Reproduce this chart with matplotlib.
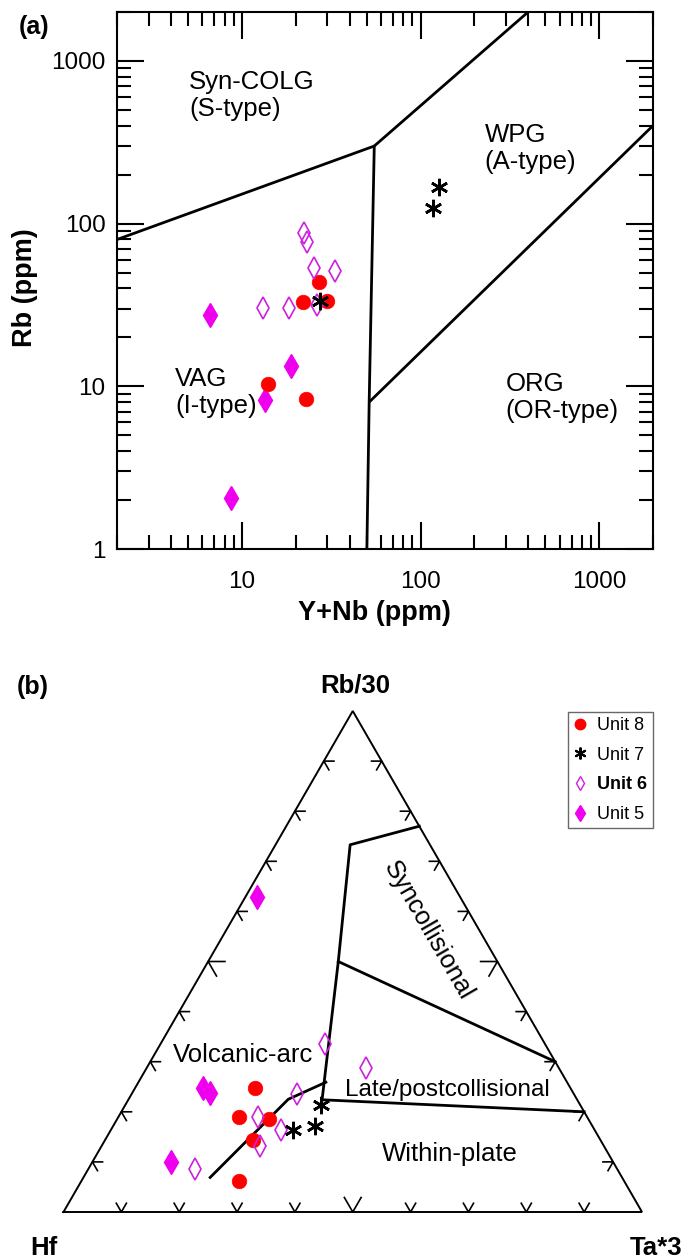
import numpy as np
import matplotlib
matplotlib.use("Agg")
import matplotlib.pyplot as plt
from matplotlib.lines import Line2D
from matplotlib.ticker import LogLocator, NullFormatter, FixedLocator, FixedFormatter
import matplotlib.transforms as mtransforms

plt.rcParams['font.family'] = ['Liberation Sans', 'DejaVu Sans']

# ---------------- Panel (a): Rb vs Y+Nb (ppm) ----------------
unit8_ynb = [27.0, 21.9, 29.8, 14.0, 22.9]
unit8_rb = [43.6, 33.1, 33.6, 10.4, 8.3]
unit7_ynb = [27.2, 126.7, 117.9]
unit7_rb = [33.5, 168, 124]
unit6_ynb = [22.1, 23.2, 25.3, 33.1, 13.1, 18.2, 26.4]
unit6_rb = [87.7, 76.7, 53.5, 51.4, 30.4, 30.4, 31.6]
unit5_ynb = [6.64, 18.8, 13.5, 8.7]
unit5_rb = [27.6, 13.3, 8.2, 2.06]

# Pearce et al. (1984) field boundaries
syncolg_vag_x = [2, 55]
syncolg_vag_y = [80, 300]
vag_wpg_x = [55, 51.5, 50]
vag_wpg_y = [300, 8, 1]
syncolg_wpg_x = [55, 400]
syncolg_wpg_y = [300, 2000]
wpg_org_x = [51.5, 2000]
wpg_org_y = [8, 400]

x_major = [10, 100, 1000]
x_major_labels = ['10', '100', '1000']
y_major = [1, 10, 100, 1000]
y_major_labels = ['1', '10', '100', '1000']

# ---------------- Panel (b): Rb/30 - Hf - Ta*3 (percent) ----------------
t_unit8_rb = [24.7, 19.0, 18.5, 14.4, 6.2]
t_unit8_ta = [20.8, 20.9, 26.3, 25.5, 27.3]
t_unit7_rb = [21.4, 16.4, 17.2]
t_unit7_ta = [33.8, 31.4, 34.8]
t_unit6_rb = [33.5, 28.7, 23.6, 19.0, 16.4, 13.2, 8.6]
t_unit6_ta = [28.4, 38.0, 28.6, 24.2, 29.4, 27.3, 18.4]
t_unit5_rb = [62.9, 24.7, 23.7, 10.0]
t_unit5_ta = [2.0, 11.8, 13.5, 13.6]

# Harris et al. (1986) field boundaries (Rb/30 %, Ta*3 %)
b_syncol_rb = [77.0, 73.3, 50.0, 22.4]
b_syncol_ta = [23.0, 12.9, 22.5, 33.5]
b_late_rb = [50.0, 30.0]
b_late_ta = [22.5, 70.0]
b_wp_rb = [22.4, 20.0]
b_wp_ta = [33.5, 80.0]
b_va_rb = [25.9, 22.5, 6.9]
b_va_ta = [32.4, 27.6, 21.9]

legend_labels = ['Unit 8', 'Unit 7', 'Unit 6', 'Unit 5']

C_RED = '#FF0000'
C_OPEN = '#CC22DD'
C_FILL = '#EE00EE'
AST = (6, 2, 0)

W, H = 682, 1260
fig = plt.figure(figsize=(W / 100, H / 100), dpi=100)


def fx(px):
    return px / W


def fy(py):
    return 1 - py / H


# ======================= Panel (a) =======================
L, R, T, B = 117.3, 652.9, 12, 549
ax = fig.add_axes([fx(L), fy(B), (R - L) / W, (B - T) / H])
ax.set_xscale('log')
ax.set_yscale('log')
ax.set_xlim(2, 2000)
ax.set_ylim(1, 2000)

lwb = 2.0
for xs, ys in [(syncolg_vag_x, syncolg_vag_y), (vag_wpg_x, vag_wpg_y),
               (syncolg_wpg_x, syncolg_wpg_y), (wpg_org_x, wpg_org_y)]:
    ax.plot(xs, ys, color='black', lw=lwb, solid_capstyle='butt', zorder=2)

ax.plot(unit5_ynb, unit5_rb, ls='none', marker='d', ms=12, mfc=C_FILL, mec=C_FILL, mew=1, zorder=3)
ax.plot(unit8_ynb, unit8_rb, ls='none', marker='o', ms=10.5, mfc=C_RED, mec=C_RED, mew=0.5, zorder=4)
ax.plot(unit6_ynb, unit6_rb, ls='none', marker='d', ms=11, mfc='none', mec=C_OPEN, mew=1.2, zorder=5)
ax.plot(unit7_ynb, unit7_rb, ls='none', marker=AST, ms=12.5, color='black', mew=1.9, zorder=6)

ax.xaxis.set_major_locator(FixedLocator(x_major))
ax.xaxis.set_major_formatter(FixedFormatter(x_major_labels))
ax.yaxis.set_major_locator(FixedLocator(y_major))
ax.yaxis.set_major_formatter(FixedFormatter(y_major_labels))
ax.xaxis.set_minor_locator(LogLocator(base=10, subs=np.arange(2, 10), numticks=20))
ax.yaxis.set_minor_locator(LogLocator(base=10, subs=np.arange(2, 10), numticks=20))
ax.xaxis.set_minor_formatter(NullFormatter())
ax.yaxis.set_minor_formatter(NullFormatter())
ax.tick_params(which='both', direction='in', top=True, right=True, width=1.5, color='black')
ax.tick_params(which='major', length=19.5, labelsize=17.5)
ax.tick_params(which='minor', length=10)
ax.tick_params(axis='x', which='major', pad=16)
ax.tick_params(axis='y', which='major', pad=8.5)
for sp in ax.spines.values():
    sp.set_linewidth(1.5)

fs_reg = 18.5
tr_data = ax.transData


def two_line(x, y, l1, l2, dy_px=27):
    ax.text(x, y, l1, fontsize=fs_reg, ha='left', va='baseline', zorder=7)
    off = mtransforms.offset_copy(tr_data, fig=fig, x=0, y=-dy_px * 72 / 100, units='points')
    ax.text(x, y, l2, fontsize=fs_reg, ha='left', va='baseline', transform=off, zorder=7)


two_line(5.06, 668, 'Syn-COLG', '(S-type)')
two_line(228.6, 316, 'WPG', '(A-type)')
two_line(4.22, 10.1, 'VAG', '(I-type)')
two_line(300, 9.4, 'ORG', '(OR-type)')

fig.text(fx(33.7), fy(27), '(a)', fontsize=18, fontweight='bold', ha='center', va='center')
fig.text(fx(25), fy(288), 'Rb (ppm)', fontsize=19.5, fontweight='bold', rotation=90,
         ha='center', va='center')
fig.text(fx(374), fy(620), 'Y+Nb (ppm)', fontsize=19.5, fontweight='bold', ha='center', va='baseline')

# ======================= Panel (b) =======================
S = 578.5
X0, Y0 = 63.5, 1212
top_px = 640
ax2 = fig.add_axes([0, 0, 1, (H - top_px) / H])
ax2.set_xlim(-X0 / S, (W - X0) / S)
ax2.set_ylim(-(H - Y0) / S, (Y0 - top_px) / S)
ax2.axis('off')

h3 = np.sqrt(3) / 2


def tern(rb, ta):
    rb = np.asarray(rb, dtype=float) / 100
    ta = np.asarray(ta, dtype=float) / 100
    return ta + rb / 2, rb * h3


# triangle outline
ax2.plot([0, 1, 0.5, 0], [0, 0, h3, 0], color='black', lw=1.4, solid_joinstyle='miter', zorder=2)

# ticks
for i in range(1, 10):
    f = i / 10
    ln = 0.029 if i == 5 else 0.0175
    # left side
    px, py = f / 2, f * h3
    ax2.plot([px + ln, px, px + 0.5 * ln], [py, py, py - h3 * ln], color='black', lw=1.2, zorder=2)
    # right side
    px, py = 1 - f / 2, f * h3
    ax2.plot([px - ln, px, px - 0.5 * ln], [py, py, py - h3 * ln], color='black', lw=1.2, zorder=2)
    # bottom
    px, py = f, 0
    ax2.plot([px - 0.5 * ln, px, px + 0.5 * ln], [h3 * ln, 0, h3 * ln], color='black', lw=1.2, zorder=2)

for rbs, tas in [(b_syncol_rb, b_syncol_ta), (b_late_rb, b_late_ta),
                 (b_wp_rb, b_wp_ta), (b_va_rb, b_va_ta)]:
    xs, ys = tern(rbs, tas)
    ax2.plot(xs, ys, color='black', lw=2.0, zorder=2)

x5, y5 = tern(t_unit5_rb, t_unit5_ta)
x8, y8 = tern(t_unit8_rb, t_unit8_ta)
x6, y6 = tern(t_unit6_rb, t_unit6_ta)
x7, y7 = tern(t_unit7_rb, t_unit7_ta)
ax2.plot(x5, y5, ls='none', marker='d', ms=12, mfc=C_FILL, mec=C_FILL, mew=1, zorder=3)
ax2.plot(x8, y8, ls='none', marker='o', ms=10.5, mfc=C_RED, mec=C_RED, mew=0.5, zorder=4)
ax2.plot(x6, y6, ls='none', marker='d', ms=11, mfc='none', mec=C_OPEN, mew=1.2, zorder=5)
ax2.plot(x7, y7, ls='none', marker=AST, ms=12.5, color='black', mew=1.9, zorder=6)


def P(px_, py_):
    return (px_ - X0) / S, (Y0 - py_) / S


ax2.text(*P(243, 1062), 'Volcanic-arc', fontsize=18.5, ha='center', va='baseline')
ax2.text(*P(447, 1096), 'Late/postcollisional', fontsize=17.5, ha='center', va='baseline')
ax2.text(*P(450, 1161), 'Within-plate', fontsize=18.5, ha='center', va='baseline')
ax2.text(*P(428, 931), 'Syncollisional', fontsize=18.5, ha='center', va='center',
         rotation=-60, rotation_mode='anchor')
ax2.text(*P(355, 693), 'Rb/30', fontsize=18.5, fontweight='bold', ha='center', va='baseline')
ax2.text(*P(44, 1255), 'Hf', fontsize=18.5, fontweight='bold', ha='center', va='baseline')
ax2.text(*P(656, 1255), 'Ta*3', fontsize=18.5, fontweight='bold', ha='center', va='baseline')
fig.text(fx(33), fy(687), '(b)', fontsize=18, fontweight='bold', ha='center', va='center')

handles = [
    Line2D([], [], ls='none', marker='o', ms=7.5, mfc=C_RED, mec=C_RED),
    Line2D([], [], ls='none', marker=AST, ms=8.5, color='black', mew=1.5),
    Line2D([], [], ls='none', marker='d', ms=7, mfc='none', mec=C_OPEN, mew=1.0),
    Line2D([], [], ls='none', marker='d', ms=8, mfc=C_FILL, mec=C_FILL),
]
leg = fig.legend(handles, legend_labels, loc='upper left',
                 bbox_to_anchor=(fx(567.7), fy(711.7)), borderaxespad=0,
                 fontsize=13, frameon=True, fancybox=False, edgecolor='#444444',
                 handlelength=0.75, handletextpad=0.6, borderpad=0.3, labelspacing=0.7)
leg.get_frame().set_linewidth(1.0)
leg.get_texts()[2].set_fontweight('bold')

fig.savefig('out.png', dpi=100)
